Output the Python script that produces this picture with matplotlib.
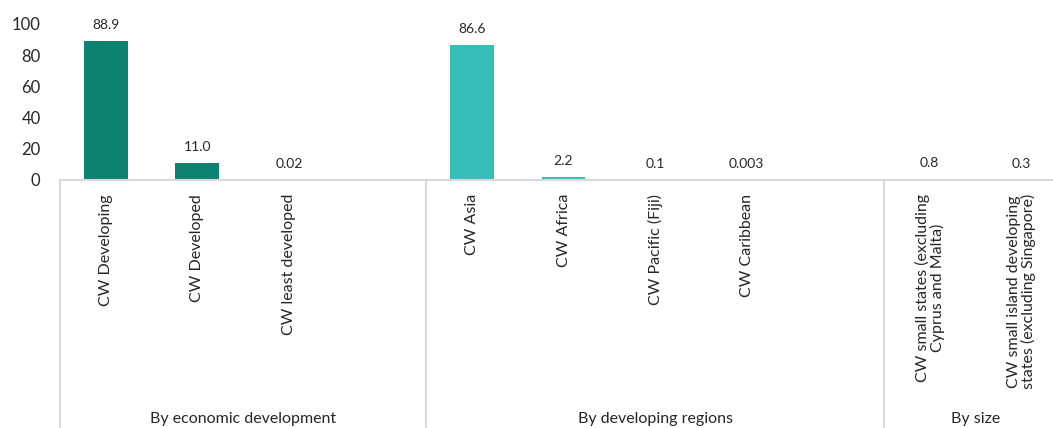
import numpy as np
import matplotlib
matplotlib.use("Agg")
from matplotlib import pyplot as plt
from matplotlib import transforms

plt.rcParams['font.family'] = ['Lato', 'DejaVu Sans']

# one slot per category, blank slots separate the groups
labels = ["CW Developing", "CW Developed", "CW least developed", "",
          "CW Asia", "CW Africa", "CW Pacific (Fiji)", "CW Caribbean", "",
          "CW small states (excluding\nCyprus and Malta)",
          "CW small island developing\nstates (excluding Singapore)"]
values = [88.9, 11.0, 0.02, None,
          86.6, 2.2, 0.1, 0.003, None,
          0.8, 0.3]
value_text = ["88.9", "11.0", "0.02", "",
              "86.6", "2.2", "0.1", "0.003", "",
              "0.8", "0.3"]
groups = ["By economic development", "By developing regions", "By size"]
group_edges = [-0.5, 3.5, 8.5, 10.5]

DARK = "#0C8270"
LIGHT = "#38BEB8"
GRID = "#D9D9D9"
colors = [DARK]*4 + [LIGHT]*9

fig = plt.figure(figsize=(10.53, 4.28), dpi=100)
ax = fig.add_axes([60/1053, 1-180/428, 1007/1053, (180-24)/428])

x = np.arange(len(labels))
for i, v in enumerate(values):
    if v is None:
        continue
    ax.bar(x[i], v, width=0.48, color=colors[i], zorder=2)
    ax.annotate(value_text[i], (x[i], v), xytext=(0, 11.5),
                textcoords="offset points", ha="center", va="center",
                fontsize=10, color="#262626")

ax.set_xlim(-0.5, 10.5)
ax.set_ylim(0, 100)
ax.set_yticks(range(0, 101, 20))
ax.tick_params(axis="y", length=0, labelsize=12, colors="#262626", pad=14)
ax.set_xticks(x)
ax.set_xticklabels(labels, rotation=90, fontsize=11.5, color="#262626",
                   multialignment="center", linespacing=1.0)
ax.tick_params(axis="x", length=0, pad=10)
for s in ["top", "right", "left"]:
    ax.spines[s].set_visible(False)
ax.spines["bottom"].set_color(GRID)
ax.spines["bottom"].set_linewidth(1.5)

# group separators and group names under the category labels
trans = transforms.blended_transform_factory(ax.transData, ax.transAxes)
for e in group_edges[:-1]:
    ax.plot([e, e], [0, -1.6], transform=trans, color=GRID, lw=1.5,
            clip_on=False, solid_capstyle="butt")
for g, a, b in zip(groups, group_edges[:-1], group_edges[1:]):
    ax.text((a + b) / 2, -1.53, g, transform=trans, ha="center",
            va="center", fontsize=11.5, color="#262626")

fig.savefig("out.png", dpi=100)
